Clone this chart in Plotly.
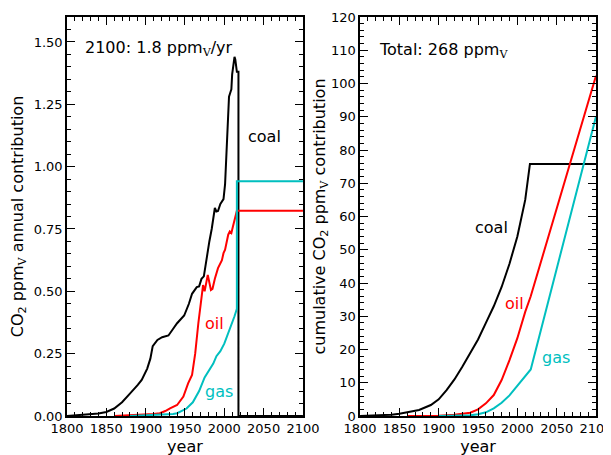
import plotly.graph_objects as go

# annual contribution (ppmV / yr)
coal_years = [1800, 1810, 1820, 1830, 1840, 1850, 1860, 1870, 1876, 1880, 1890, 1895, 1902, 1906, 1909,
              1915, 1921, 1929, 1935, 1940, 1949, 1955, 1959, 1965, 1968, 1971, 1974, 1978, 1981, 1984,
              1988, 1990, 1992, 1995, 1999, 2001, 2003, 2004, 2006, 2008, 2009, 2010, 2011, 2012, 2013,
              2014, 2015, 2016, 2018, 2018, 2100]
coal_annual = [0.0, 0.002, 0.004, 0.006, 0.01, 0.016, 0.03, 0.055, 0.078, 0.09, 0.125, 0.145, 0.19, 0.23, 0.28,
               0.305, 0.316, 0.323, 0.35, 0.372, 0.403, 0.45, 0.49, 0.517, 0.52, 0.55, 0.56, 0.65, 0.70, 0.75,
               0.834, 0.82, 0.822, 0.85, 0.87, 0.93, 1.07, 1.11, 1.28, 1.30, 1.31, 1.37, 1.40, 1.43, 1.44,
               1.43, 1.39, 1.38, 1.38, 0.0, 0.0]

oil_years = [1860, 1880, 1900, 1910, 1918, 1925, 1931, 1940, 1948, 1954, 1959, 1963, 1967, 1971, 1973,
             1975, 1979, 1983, 1985, 1988, 1992, 1997, 1999, 2001, 2005, 2007, 2009, 2011, 2014, 2016,
             2016, 2100]
oil_annual = [0.0, 0.002, 0.005, 0.008, 0.011, 0.02, 0.031, 0.044, 0.078, 0.131, 0.165, 0.25, 0.372, 0.47, 0.525,
              0.50, 0.566, 0.505, 0.51, 0.55, 0.593, 0.625, 0.653, 0.667, 0.727, 0.74, 0.734, 0.76, 0.794, 0.814,
              0.823, 0.823]

gas_years = [1880, 1900, 1920, 1935, 1940, 1948, 1952, 1960, 1968, 1975, 1980, 1986, 1990, 1995, 2000,
             2005, 2010, 2013, 2016, 2016, 2100]
gas_annual = [0.0, 0.002, 0.004, 0.008, 0.011, 0.024, 0.03, 0.055, 0.10, 0.155, 0.18, 0.21, 0.24, 0.26, 0.29,
              0.33, 0.375, 0.40, 0.43, 0.941, 0.941]

# cumulative contribution (ppmV)
coal_cum_years = [1800, 1820, 1840, 1850, 1860, 1875, 1890, 1900, 1910, 1920, 1930, 1940, 1950, 1960, 1970,
                  1980, 1990, 2000, 2010, 2016, 2100]
coal_cum = [0.0, 0.1, 0.4, 0.7, 1.1, 1.8, 3.3, 5.0, 7.8, 11.0, 14.8, 18.8, 23.0, 28.0, 33.0,
            38.8, 45.8, 54.0, 65.0, 75.8, 75.8]

oil_cum_years = [1860, 1900, 1920, 1940, 1950, 1960, 1970, 1980, 1990, 2000, 2010, 2017, 2100]
oil_cum = [0.0, 0.1, 0.4, 1.0, 2.0, 3.8, 6.3, 10.8, 16.8, 23.4, 31.3, 36.0, 102.3]

gas_cum_years = [1900, 1940, 1950, 1960, 1970, 1980, 1990, 2000, 2010, 2017, 2100]
gas_cum = [0.0, 0.2, 0.5, 1.1, 2.3, 4.0, 6.2, 9.0, 12.0, 14.0, 90.1]

COAL, OIL, GAS = 'black', '#ff0000', '#00bfbf'
FONT = 'DejaVu Sans'
V = '<sub><span style="font-family:DejaVu Serif">V</span></sub>'

fig = go.Figure()

# left panel: annual
fig.add_trace(go.Scatter(x=coal_years, y=coal_annual, mode='lines', line=dict(color=COAL, width=2),
                         xaxis='x', yaxis='y'))
fig.add_trace(go.Scatter(x=oil_years, y=oil_annual, mode='lines', line=dict(color=OIL, width=2),
                         xaxis='x', yaxis='y'))
fig.add_trace(go.Scatter(x=gas_years, y=gas_annual, mode='lines', line=dict(color=GAS, width=2),
                         xaxis='x', yaxis='y'))

# right panel: cumulative
fig.add_trace(go.Scatter(x=coal_cum_years, y=coal_cum, mode='lines', line=dict(color=COAL, width=2),
                         xaxis='x2', yaxis='y2'))
fig.add_trace(go.Scatter(x=oil_cum_years, y=oil_cum, mode='lines', line=dict(color=OIL, width=2),
                         xaxis='x2', yaxis='y2'))
fig.add_trace(go.Scatter(x=gas_cum_years, y=gas_cum, mode='lines', line=dict(color=GAS, width=2),
                         xaxis='x2', yaxis='y2'))

axis_style = dict(showgrid=False, zeroline=False, showline=True, linecolor='black', linewidth=1.5,
                  mirror='allticks', ticks='inside', ticklen=8, tickwidth=1, tickcolor='black',
                  automargin=False, tickfont=dict(family=FONT, size=13, color='black'))

# the page body adds an 8px margin, so margins are shifted by 8px
fig.update_layout(
    width=611, height=455,
    margin=dict(l=59, r=23, t=9, b=47),
    paper_bgcolor='white', plot_bgcolor='white',
    showlegend=False,
    font=dict(family=FONT, color='black'),
    xaxis=dict(domain=[0, 0.446], range=[1800, 2100], dtick=50, anchor='y',
               minor=dict(dtick=10, ticks='inside', ticklen=4, tickcolor='black'),
               title=dict(text='year', font=dict(size=16), standoff=5), **axis_style),
    yaxis=dict(range=[0, 1.6], dtick=0.25, tickformat='.2f', anchor='x',
               minor=dict(dtick=0.05, ticks='inside', ticklen=4, tickcolor='black'),
               title=dict(text='CO<sub>2</sub> ppm' + V + ' annual contribution', font=dict(size=16), standoff=12),
               **axis_style),
    xaxis2=dict(domain=[0.554, 1], range=[1800, 2100], dtick=50, anchor='y2',
                minor=dict(dtick=10, ticks='inside', ticklen=4, tickcolor='black'),
                title=dict(text='year', font=dict(size=16), standoff=5), **axis_style),
    yaxis2=dict(range=[0, 120], dtick=10, anchor='x2',
                minor=dict(dtick=2, ticks='inside', ticklen=4, tickcolor='black'),
                title=dict(text='cumulative CO<sub>2</sub> ppm' + V + ' contribution', font=dict(size=16), standoff=1),
                **axis_style),
)

# text labels inside the panels
labels = [
    ('x', 'y', 1820.7, 1.474, '2100: 1.8 ppm' + V + '/yr', 'black', 'left'),
    ('x', 'y', 2051.7, 1.12, 'coal', COAL, 'center'),
    ('x', 'y', 1987, 0.37, 'oil', OIL, 'center'),
    ('x', 'y', 1993.4, 0.10, 'gas', GAS, 'center'),
    ('x2', 'y2', 1821.6, 109.9, 'Total: 268 ppm' + V, 'black', 'left'),
    ('x2', 'y2', 1966.5, 56.6, 'coal', COAL, 'center'),
    ('x2', 'y2', 1997, 33.7, 'oil', OIL, 'center'),
    ('x2', 'y2', 2049, 17.5, 'gas', GAS, 'center'),
]
for xr, yr, x, y, txt, col, anc in labels:
    fig.add_annotation(x=x, y=y, xref=xr, yref=yr, text=txt, showarrow=False,
                       xanchor=anc, yanchor='middle', font=dict(family=FONT, size=16, color=col))

fig.write_html("out.html")
